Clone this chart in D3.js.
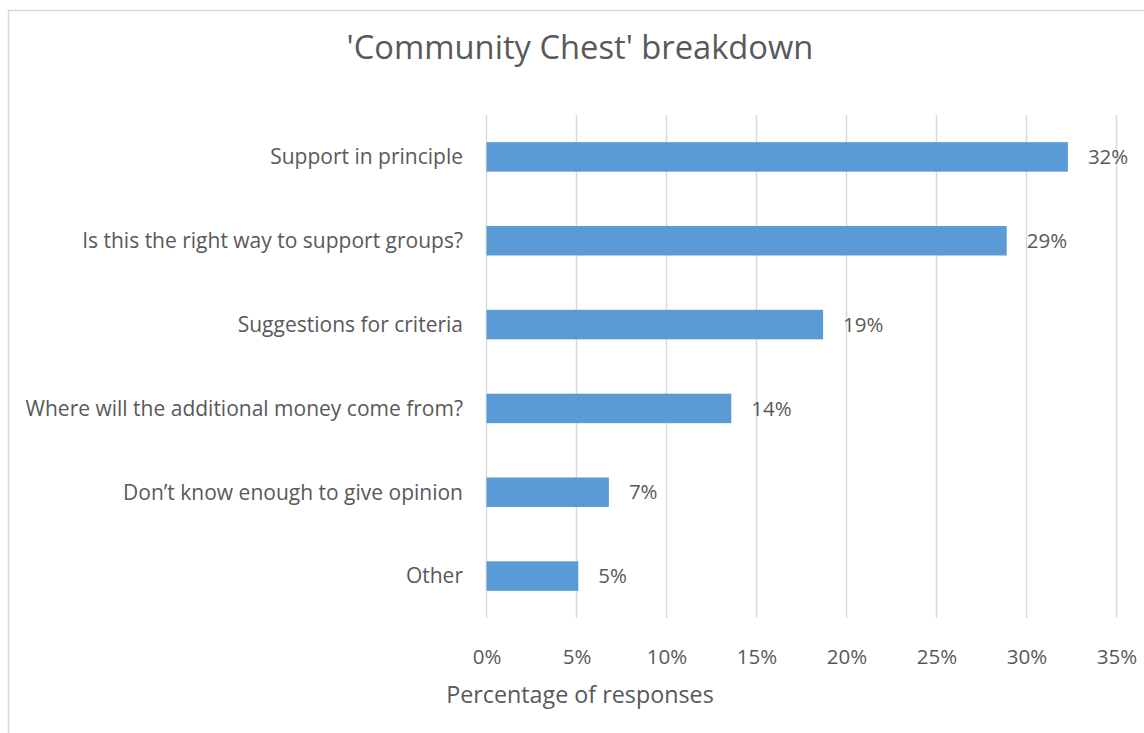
<!DOCTYPE html>
<html><head><meta charset="utf-8">
<script src="https://cdn.jsdelivr.net/npm/d3@7"></script>
<style>
html,body{margin:0;padding:0;background:#fff;}
svg{display:block;font-family:"Open Sans","Noto Sans",sans-serif;}
</style></head>
<body>
<svg id="chart" width="1144" height="733"></svg>
<script>
const categories = ["Support in principle","Is this the right way to support groups?","Suggestions for criteria","Where will the additional money come from?","Don\u2019t know enough to give opinion","Other"];
const values = [32.3, 28.9, 18.7, 13.6, 6.8, 5.1];
const valueLabels = ["32%","29%","19%","14%","7%","5%"];
const tickValues = [0,5,10,15,20,25,30,35];
const title = "'Community Chest' breakdown";
const xTitle = "Percentage of responses";

(function(){
const svg = d3.select("#chart");
const textColor = "#595959";
const barColor = "#5b9bd5";
const gridColor = "#d9d9d9";

// border
svg.append("rect").attr("x",8.5).attr("y",10.5).attr("width",1144).attr("height",740)
  .attr("fill","none").attr("stroke","#d9d9d9").attr("stroke-width",1.5);

const pLeft = 486.5, pRight = 1116.5, pTop = 115, pBottom = 618;
const x = d3.scaleLinear().domain([0,35]).range([pLeft,pRight]);
const y = d3.scaleBand().domain(categories).range([pTop,pBottom]).paddingInner(0.648).paddingOuter(0.324);

// gridlines
svg.append("g").selectAll("line").data(tickValues).join("line")
  .attr("x1",d=>x(d)).attr("x2",d=>x(d)).attr("y1",pTop).attr("y2",pBottom)
  .attr("stroke",gridColor).attr("stroke-width",1.5);

// bars
svg.append("g").selectAll("rect").data(values).join("rect")
  .attr("x",x(0)).attr("y",(d,i)=>y(categories[i]))
  .attr("width",d=>x(d)-x(0)).attr("height",y.bandwidth())
  .attr("fill",barColor);

// value labels
svg.append("g").selectAll("text").data(values).join("text")
  .attr("x",d=>x(d)+20).attr("y",(d,i)=>y(categories[i])+y.bandwidth()/2)
  .attr("dy","0.35em").attr("font-size",20.5).attr("fill",textColor)
  .text((d,i)=>valueLabels[i]);

// category axis labels
svg.append("g").selectAll("text").data(categories).join("text")
  .attr("x",463).attr("y",d=>y(d)+y.bandwidth()/2).attr("dy","0.35em")
  .attr("text-anchor","end").attr("font-size",21).attr("fill",textColor)
  .text(d=>d);

// x axis ticks
const xAxis = d3.axisBottom(x).tickValues(tickValues).tickFormat(d=>d+"%").tickSize(0).tickPadding(0);
const gx = svg.append("g").attr("transform",`translate(0,${pBottom})`).call(xAxis);
gx.select(".domain").remove();
gx.selectAll("text").attr("y",39).attr("dy","0.35em").attr("font-size",20.5)
  .attr("fill",textColor).attr("font-family","'Open Sans','Noto Sans',sans-serif");

// axis title
svg.append("text").attr("x",580).attr("y",695).attr("dy","0.35em").attr("text-anchor","middle")
  .attr("font-size",23.3).attr("fill",textColor).text(xTitle);

// chart title
svg.append("text").attr("x",580).attr("y",48).attr("dy","0.35em").attr("text-anchor","middle")
  .attr("font-size",32.7).attr("fill",textColor).text(title);
})();
</script>
</body></html>
